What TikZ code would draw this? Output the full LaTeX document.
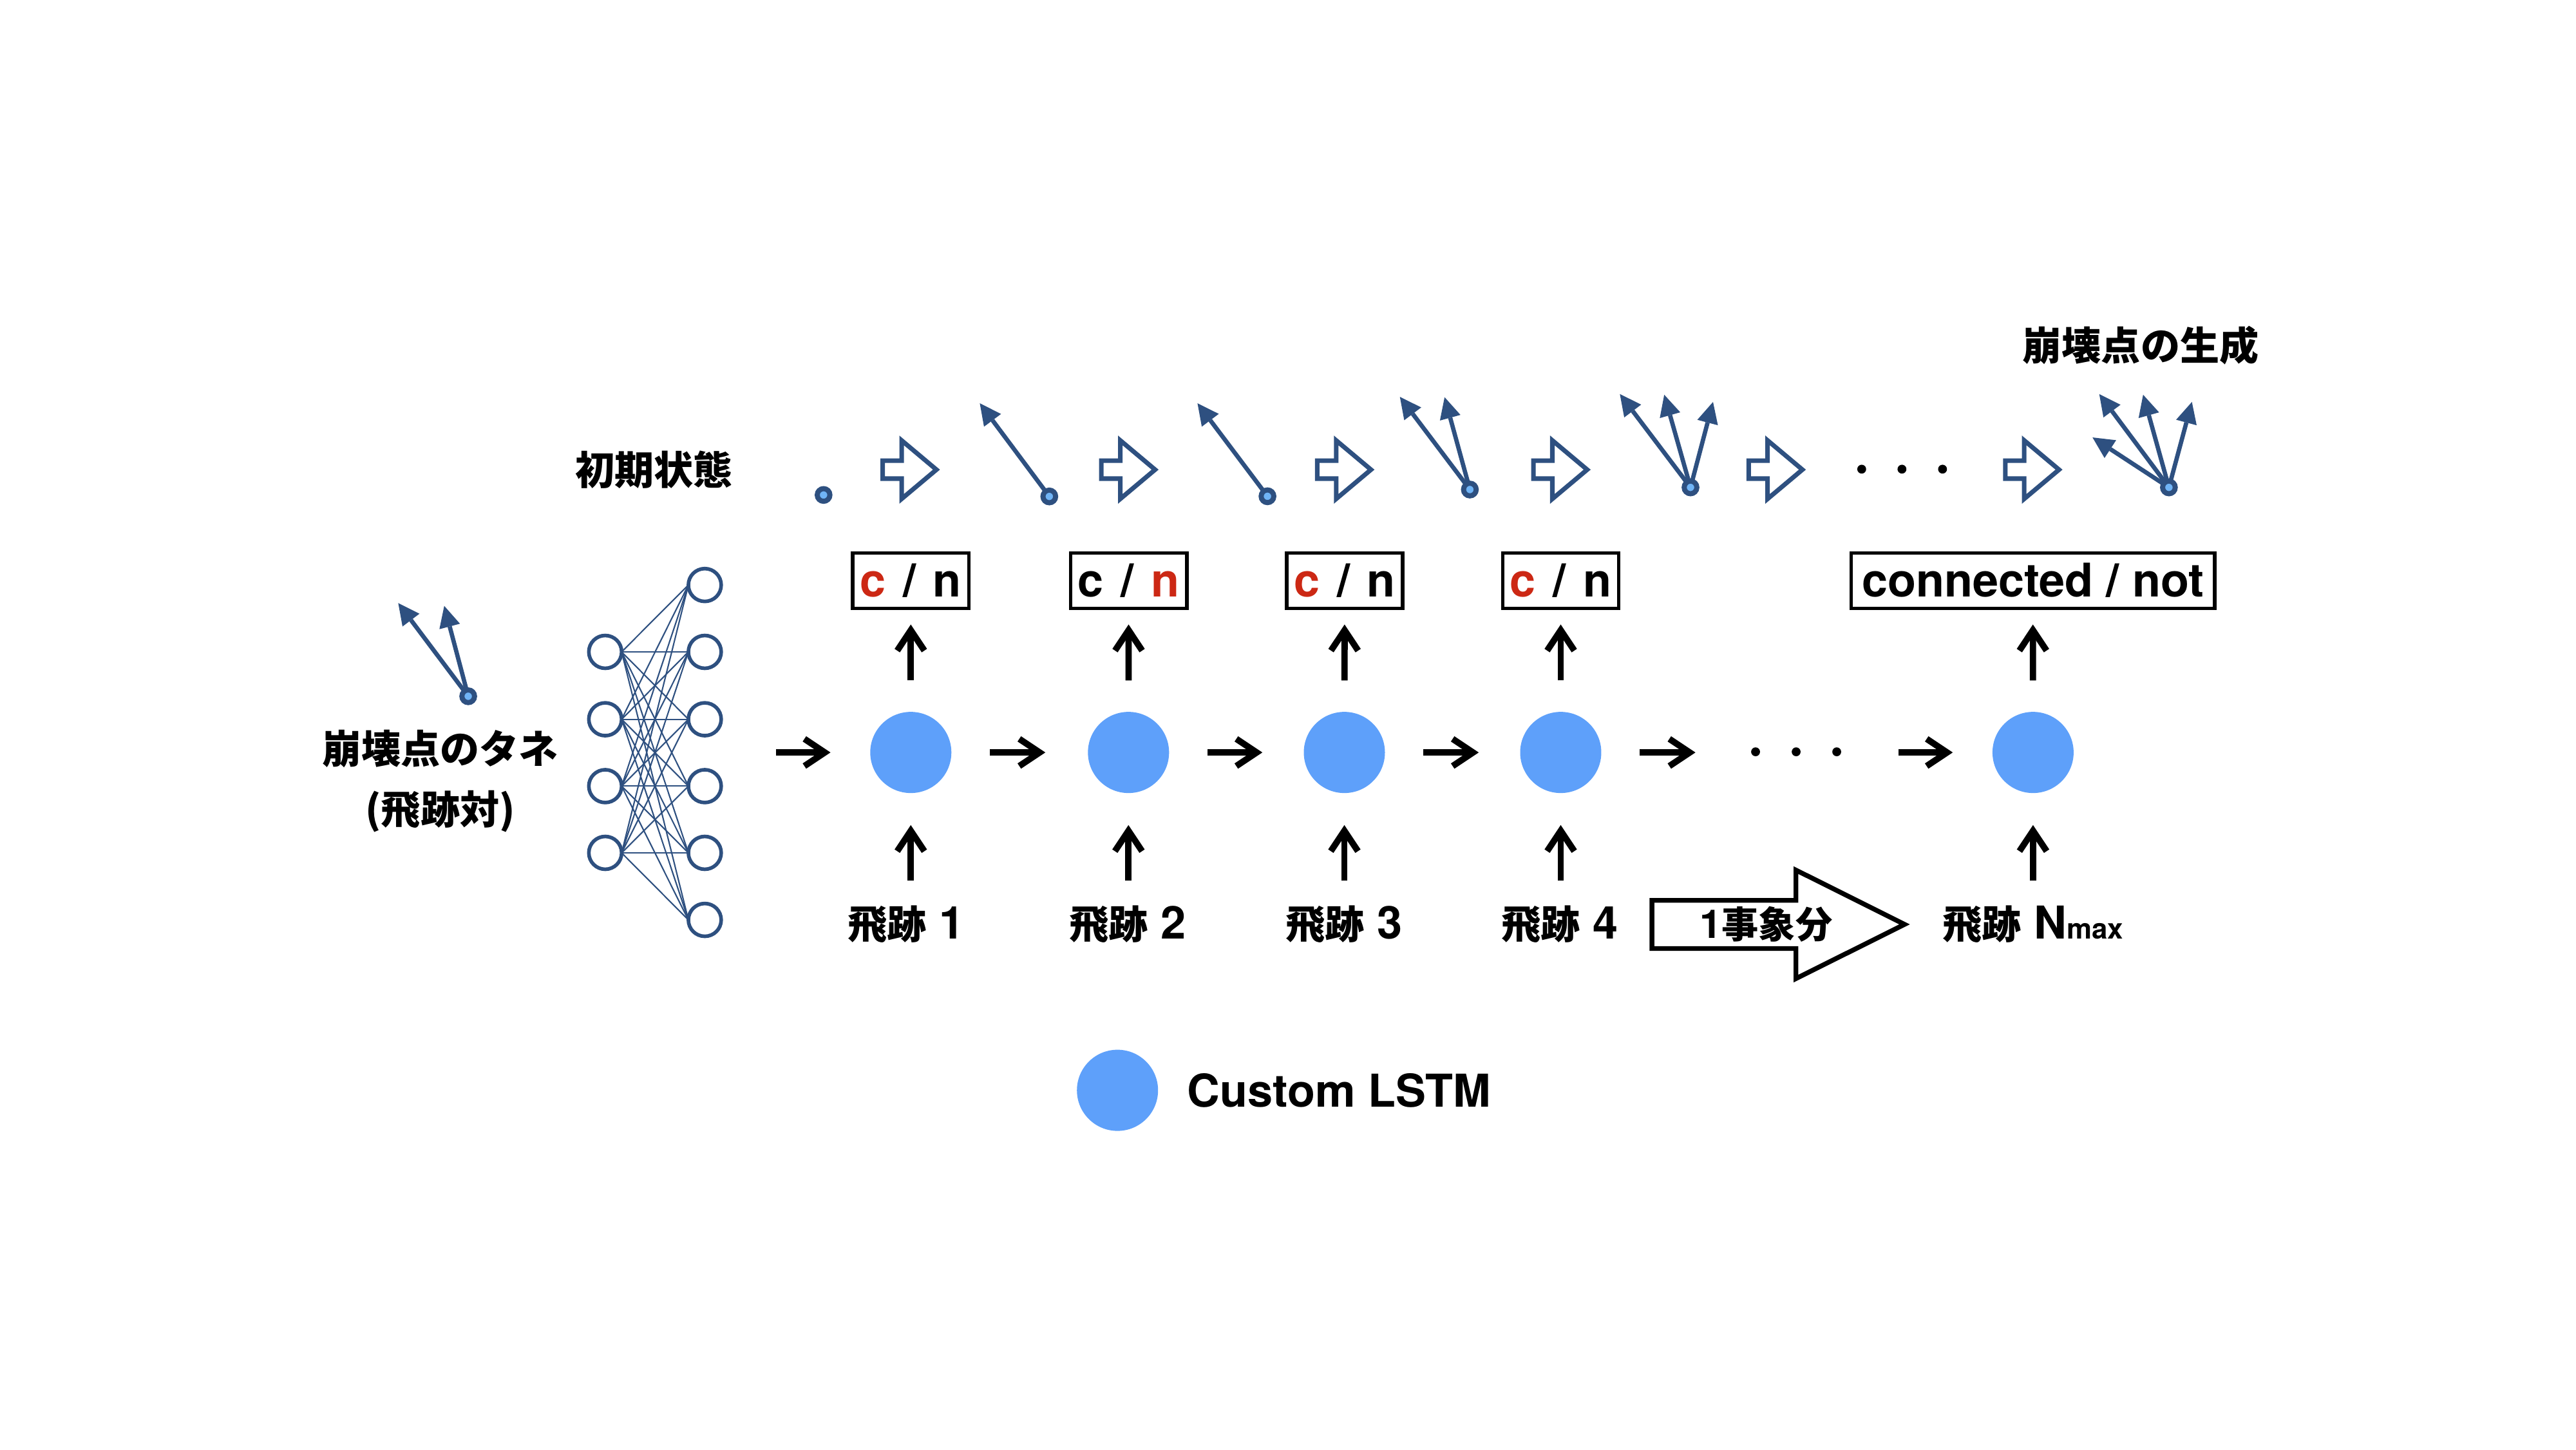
\documentclass[tikz,border=0pt]{standalone}
\usepackage{fontspec}
\setmainfont{TeX Gyre Heros}
\newfontfamily\jp{Noto Sans CJK JP}
\usetikzlibrary{arrows.meta}
\pgfdeclarelayer{bg}
\pgfdeclarelayer{paper}
\pgfsetlayers{paper,bg,main}
\definecolor{dblue}{RGB}{46,80,128}
\definecolor{lblue}{RGB}{112,180,246}
\definecolor{lstmc}{RGB}{94,160,250}
\definecolor{redc}{RGB}{204,40,20}
\newcommand\hsk{{\jp\bfseries\fontsize{17.4pt}{21pt}\selectfont 飛跡}}
\newcommand\cnsep{\hspace{0.37em}}
\tikzset{
  lstm/.style={circle, fill=lstmc, minimum size=35.85pt, inner sep=0pt, outer sep=0pt},
  neur/.style={circle, draw=dblue, fill=white, line width=1.6pt, minimum size=14.5pt, inner sep=0pt, outer sep=0pt},
  dotn/.style={circle, draw=dblue, fill=lblue, line width=2.25pt, minimum size=5.6pt, inner sep=0pt, outer sep=0pt},
  cnbox/.style={draw, line width=1.6pt, minimum width=51.3pt, minimum height=24.46pt, inner xsep=0pt, inner ysep=0pt, outer sep=0pt, text height=16pt, text depth=1.6pt, font=\bfseries\fontsize{20.5pt}{24pt}\selectfont},
  jpt/.style={font=\jp\bfseries\fontsize{17.4pt}{21pt}\selectfont, inner sep=0pt, outer sep=0pt},
  lab/.style={font=\bfseries\fontsize{20pt}{24pt}\selectfont, inner sep=0pt, outer sep=0pt},
  barr/.style={line width=2.8pt, -{Straight Barb[length=9pt,width=12pt]}},
  blarr/.style={draw=dblue, line width=1.9pt, -{Triangle[length=9.4pt,width=9.4pt,line width=0pt]}},
  nline/.style={draw=dblue, line width=0.6pt},
  harr/.style={draw=dblue, line width=2pt, fill=white, line join=miter},
  bigarr/.style={draw=black, line width=2.1pt, fill=white, line join=miter},
  harrow/.pic={\draw[harr] (1.4,-5.45) -- (12.9,-5.45) -- (12.9,-17.8) -- (34.1,0) -- (12.9,17.8) -- (12.9,5.45) -- (1.4,5.45) -- cycle;}
}
\begin{document}
\begin{tikzpicture}[x=0.025510cm,y=-0.025510cm]
\useasboundingbox (0,0) rectangle (1568,882);
\begin{pgfonlayer}{paper}
\fill[white] (0,0) rectangle (1568,882);
\end{pgfonlayer}

% ---------- seed ----------
\node[dotn] (sd) at (285,423.7) {};
\coordinate (sa1) at (242.4,367);
\coordinate (sa2) at (270.4,368.7);
\begin{pgfonlayer}{bg}
\draw[blarr] (sd.center) -- (sa1);
\draw[blarr] (sd.center) -- (sa2);
\end{pgfonlayer}
\node[jpt] (seedt1) at (268,455.7) {崩壊点のタネ};
\node[jpt] (seedt2) at (268,493.8) {(飛跡対)};

% ---------- network ----------
\foreach \i/\yy in {1/396.7,2/437.7,3/478.4,4/519}
  \node[neur] (nl\i) at (368.4,\yy) {};
\foreach \j/\yy in {1/356,2/396.7,3/437.7,4/478.4,5/519,6/559.8}
  \node[neur] (nr\j) at (429,\yy) {};
\begin{pgfonlayer}{bg}
\foreach \i in {1,...,4}
  \foreach \j in {1,...,6}
    \draw[nline] (nl\i.east) -- (nr\j.west);
\end{pgfonlayer}

% ---------- LSTM chain ----------
\node[lstm] (l1) at (554.4,457.9) {};
\node[lstm] (l2) at (686.9,457.9) {};
\node[lstm] (l3) at (818.3,457.9) {};
\node[lstm] (l4) at (950,457.9) {};
\node[lstm] (l5) at (1237.5,457.9) {};

\coordinate (nin) at (472.4,457.9);
\coordinate (hd1) at (1032,457.9);
\coordinate (hd2) at (1155.5,457.9);
\draw[barr, shorten >=17.56pt] (nin) -- (l1);
\draw[barr, shorten <=17pt, shorten >=18.8pt] (l1) -- (l2);
\draw[barr, shorten <=17pt, shorten >=18.3pt] (l2) -- (l3);
\draw[barr, shorten <=17pt, shorten >=18.3pt] (l3) -- (l4);
\draw[barr, shorten <=16.9pt] (l4) -- (hd1);
\draw[barr, shorten >=17.56pt] (hd2) -- (l5);
\foreach \xx in {1068.6,1093.3,1118}
  \fill (\xx,457.5) circle[radius=1.96pt];

% ---------- output boxes ----------
\node[cnbox] (c1) at (554.4,353.4) {\textcolor{redc}{c}\cnsep/\cnsep n};
\node[cnbox] (c2) at (687,353.4) {c\cnsep/\cnsep\textcolor{redc}{n}};
\node[cnbox] (c3) at (818.5,353.4) {\textcolor{redc}{c}\cnsep/\cnsep n};
\node[cnbox] (c4) at (950,353.4) {\textcolor{redc}{c}\cnsep/\cnsep n};
\node[cnbox, minimum width=160.6pt] (c5) at (1237.4,353.4) {connected / not};
\foreach \k in {1,...,5}
  \draw[barr, shorten <=13.9pt, shorten >=7.1pt] (l\k) -- (c\k);

% ---------- inputs ----------
\node[lab] (t1) at (551.5,562.5) {\hsk{} 1};
\node[lab] (t2) at (686.3,562.5) {\hsk{} 2};
\node[lab] (t3) at (818,562.5) {\hsk{} 3};
\node[lab] (t4) at (949.5,562.5) {\hsk{} 4};
\node[lab] (t5) at (1237.4,562.5) {\hsk{} N{\fontsize{12.5pt}{14pt}\selectfont max}};
\coordinate (ub1) at (554.4,536);
\coordinate (ub2) at (686.9,536);
\coordinate (ub3) at (818.3,536);
\coordinate (ub4) at (950,536);
\coordinate (ub5) at (1237.5,536);
\foreach \k in {1,...,5}
  \draw[barr, shorten >=14.15pt] (ub\k) -- (l\k);

% ---------- one event arrow ----------
\draw[bigarr] (1005.5,547.9) -- (1093.2,547.9) -- (1093.2,529.5) -- (1159.3,562.5)
  -- (1093.2,595.5) -- (1093.2,577.2) -- (1005.5,577.2) -- cycle;
\node[inner sep=0pt, font=\bfseries\fontsize{17.5pt}{21pt}\selectfont] (ev) at (1075,562.5)
  {1{\jp\fontsize{16.3pt}{20pt}\selectfont 事象分}};

% ---------- top row: vertex generation ----------
\node[jpt] (init) at (398,285.8) {初期状態};
\node[jpt] (gen) at (1303,210) {崩壊点の生成};

\node[dotn] (v0) at (501.3,301.2) {};
\node[dotn] (v1) at (638.7,302.1) {};
\node[dotn] (v2) at (771.5,302) {};
\node[dotn] (v3) at (894.7,297.9) {};
\node[dotn] (v4) at (1029,296.6) {};
\node[dotn] (v5) at (1320.2,296.6) {};
\coordinate (a11) at (596.4,245.4);
\coordinate (a21) at (728.9,245.4);
\coordinate (a31) at (852.1,241.5);
\coordinate (a32) at (879.3,241.7);
\coordinate (a41) at (986,239.8);
\coordinate (a42) at (1013,240.2);
\coordinate (a43) at (1042.7,244.6);
\coordinate (a51) at (1277.8,239.8);
\coordinate (a52) at (1304.5,240.2);
\coordinate (a53) at (1334.2,244.6);
\coordinate (a54) at (1273.7,266.2);
\begin{pgfonlayer}{bg}
\draw[blarr] (v1.center) -- (a11);
\draw[blarr] (v2.center) -- (a21);
\draw[blarr] (v3.center) -- (a31);
\draw[blarr] (v3.center) -- (a32);
\draw[blarr] (v4.center) -- (a41);
\draw[blarr] (v4.center) -- (a42);
\draw[blarr] (v4.center) -- (a43);
\draw[blarr] (v5.center) -- (a51);
\draw[blarr] (v5.center) -- (a52);
\draw[blarr] (v5.center) -- (a53);
\draw[blarr] (v5.center) -- (a54);
\end{pgfonlayer}

\foreach \xx in {535.9,669,800.4,932,1063,1219.2}
  \pic at (\xx,285.8) {harrow};
\foreach \xx in {1133.2,1157.7,1182.4}
  \fill (\xx,285.5) circle[radius=1.96pt];

% ---------- legend ----------
\node[lstm] (leg) at (680.2,663.5) {};
\node[anchor=base west, inner sep=0pt, font=\bfseries\fontsize{20pt}{24pt}\selectfont] (legt) at (722.5,673.6) {Custom LSTM};
\end{tikzpicture}
\end{document}
